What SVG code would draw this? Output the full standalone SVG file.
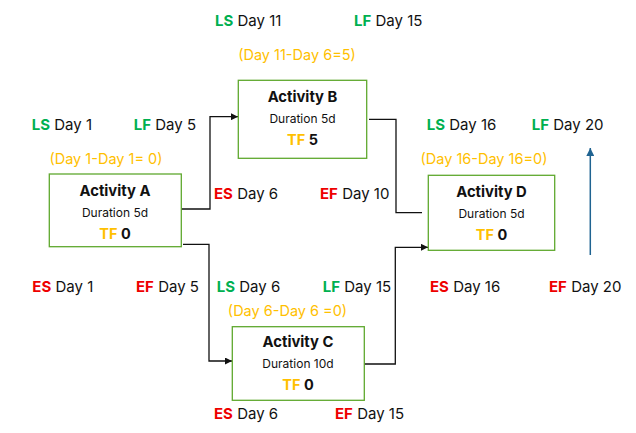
<svg xmlns="http://www.w3.org/2000/svg" width="636" height="433" viewBox="0 0 636 433">
<defs>
<style>
text{font-family:Inter,"Liberation Sans",sans-serif;fill:#111;}
.t{font-size:15px;}
.g{fill:#00B050;font-weight:bold;}
.r{fill:#EE0000;font-weight:bold;}
.o{fill:#FFC000;font-size:14.5px;}
.y{fill:#FFC000;font-weight:bold;}
.h{font-size:14.8px;font-weight:bold;text-anchor:middle;}
.d{font-size:12px;text-anchor:middle;}
.f{font-size:14.5px;font-weight:bold;text-anchor:middle;}
.box{fill:#fff;stroke:#5FA82E;stroke-width:1.3;}
.c{fill:none;stroke:#111;stroke-width:1.3;}
</style>
<marker id="ah" viewBox="0 0 10 10" refX="10" refY="5" markerWidth="7" markerHeight="7" markerUnits="userSpaceOnUse" orient="auto"><path d="M0,0L10,5L0,10z" fill="#111"/></marker>
<marker id="ab" viewBox="0 0 10 10" refX="10" refY="5" markerWidth="8" markerHeight="8" markerUnits="userSpaceOnUse" orient="auto"><path d="M0,0L10,5L0,10z" fill="#1F6391"/></marker>
</defs>
<g id="connectors">
<path class="c" d="M181,209H210V116.7H238" marker-end="url(#ah)"/>
<path class="c" d="M183,244.3H209V361H232" marker-end="url(#ah)"/>
<path class="c" d="M369,119.3H396V212.7H422"/>
<path class="c" d="M364,364H395.3V247.3H428" marker-end="url(#ah)"/>
<path d="M590.3,255V148" stroke="#1F6391" stroke-width="1.5" fill="none" marker-end="url(#ab)"/>
</g>
<g id="activity-a">
<rect class="box" x="49.3" y="174" width="132" height="72.7"/>
<text class="h" x="115" y="196">Activity A</text>
<text class="d" x="115" y="216.5">Duration 5d</text>
<text class="f" x="115" y="238.5"><tspan class="y">TF</tspan> 0</text>
</g>
<g id="activity-b">
<rect class="box" x="238.3" y="80.3" width="128.4" height="78"/>
<text class="h" x="302.5" y="102">Activity B</text>
<text class="d" x="302.5" y="122.5">Duration 5d</text>
<text class="f" x="302.5" y="144.5"><tspan class="y">TF</tspan> 5</text>
</g>
<g id="activity-c">
<rect class="box" x="232.3" y="326.7" width="132" height="73.6"/>
<text class="h" x="298" y="347">Activity C</text>
<text class="d" x="298" y="368">Duration 10d</text>
<text class="f" x="298" y="389.5"><tspan class="y">TF</tspan> 0</text>
</g>
<g id="activity-d">
<rect class="box" x="428.3" y="175.3" width="126.4" height="75"/>
<text class="h" x="491.5" y="197">Activity D</text>
<text class="d" x="491.5" y="217.5">Duration 5d</text>
<text class="f" x="491.5" y="239.5"><tspan class="y">TF</tspan> 0</text>
</g>
<g id="labels">
<text class="t" x="215" y="26"><tspan class="g">LS</tspan> Day 11</text>
<text class="t" x="354" y="26"><tspan class="g">LF</tspan> Day 15</text>
<text class="o" x="297" y="60" text-anchor="middle">(Day 11-Day 6=5)</text>
<text class="t" x="31.7" y="130"><tspan class="g">LS</tspan> Day 1</text>
<text class="t" x="133.7" y="130"><tspan class="g">LF</tspan> Day 5</text>
<text class="o" x="106" y="163.5" text-anchor="middle">(Day 1-Day 1= 0)</text>
<text class="t" x="214" y="199"><tspan class="r">ES</tspan> Day 6</text>
<text class="t" x="320" y="199"><tspan class="r">EF</tspan> Day 10</text>
<text class="t" x="426.7" y="130"><tspan class="g">LS</tspan> Day 16</text>
<text class="t" x="531.7" y="130"><tspan class="g">LF</tspan> Day 20</text>
<text class="o" x="484" y="163.5" text-anchor="middle">(Day 16-Day 16=0)</text>
<text class="t" x="32.3" y="291.7"><tspan class="r">ES</tspan> Day 1</text>
<text class="t" x="136" y="291.7"><tspan class="r">EF</tspan> Day 5</text>
<text class="t" x="216.7" y="291.7"><tspan class="g">LS</tspan> Day 6</text>
<text class="t" x="322.7" y="291.7"><tspan class="g">LF</tspan> Day 15</text>
<text class="t" x="430" y="291.7"><tspan class="r">ES</tspan> Day 16</text>
<text class="t" x="549" y="291.7"><tspan class="r">EF</tspan> Day 20</text>
<text class="o" x="287.5" y="316" text-anchor="middle">(Day 6-Day 6 =0)</text>
<text class="t" x="214" y="419"><tspan class="r">ES</tspan> Day 6</text>
<text class="t" x="335" y="419"><tspan class="r">EF</tspan> Day 15</text>
</g>
</svg>
